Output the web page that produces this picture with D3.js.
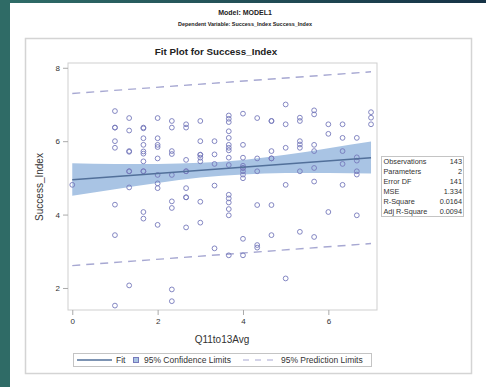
<!DOCTYPE html>
<html>
<head>
<meta charset="utf-8">
<script src="https://cdn.jsdelivr.net/npm/d3@7"></script>
<style>
 body { margin: 0; background: #fff; }
 svg text { font-family: "Liberation Sans", Arial, sans-serif; }
</style>
</head>
<body>
<div id="chart"></div>
<script>

// observations (x is an average of thirds)
var obsX = [
 0,
 1,1,1,1,1,1,1,1,
 1.333,1.333,1.333,1.333,1.333,1.333,1.333,1.333,
 1.667,1.667,1.667,1.667,1.667,1.667,1.667,1.667,1.667,1.667,1.667,
 2,2,2,2,2,2,2,2,2,
 2.333,2.333,2.333,2.333,2.333,2.333,2.333,2.333,2.333,
 2.667,2.667,2.667,2.667,2.667,2.667,2.667,2.667,2.667,
 3,3,3,3,3,3,3,3,
 3.333,3.333,3.333,3.333,3.333,
 3.667,3.667,3.667,3.667,3.667,3.667,3.667,3.667,3.667,3.667,3.667,3.667,3.667,3.667,3.667,3.667,
 4,4,4,4,4,4,4,4,4,4,4,
 4.333,4.333,4.333,4.333,4.333,4.333,
 4.667,4.667,4.667,4.667,4.667,4.667,4.667,
 5,5,5,5,5,
 5.333,5.333,5.333,5.333,5.333,5.333,5.333,
 5.667,5.667,5.667,5.667,5.667,5.667,5.667,
 6,6,6,
 6.333,6.333,6.333,6.333,6.333,
 6.667,6.667,6.667,6.667,6.667,6.667,
 7,7,7
]
var obsY = [
 4.81,
 6.82,6.37,6.37,6.0,5.82,4.27,3.44,1.52,
 6.63,6.29,5.73,5.71,5.18,5.18,4.74,2.07,
 6.37,6.35,6.08,5.90,5.72,5.66,5.45,5.18,5.18,4.07,3.89,
 6.63,6.08,5.90,5.84,5.53,5.08,4.85,4.72,3.72,
 6.55,6.37,5.73,5.65,5.08,4.36,4.18,1.96,1.64,
 6.46,6.37,5.49,5.18,5.18,4.72,4.47,4.47,3.65,
 6.55,6.0,5.63,5.63,5.55,5.45,4.35,3.78,
 6.0,5.64,5.38,4.79,3.08,
 6.70,6.61,6.52,6.27,6.09,5.90,5.82,5.75,5.55,5.35,4.54,4.44,4.33,4.15,3.98,2.89,
 6.75,5.90,5.55,5.33,5.27,5.27,5.18,5.09,4.99,3.34,2.89,
 6.63,5.53,5.18,4.26,3.17,3.10,
 6.55,6.55,5.73,5.53,5.53,4.26,3.44,
 7.0,6.46,5.82,4.81,2.26,
 6.64,6.55,6.0,5.91,5.82,5.18,3.53,
 6.84,6.73,5.90,5.73,5.27,4.90,3.39,
 6.46,6.20,4.07,
 6.46,6.09,5.73,5.38,4.81,
 6.09,5.56,5.47,5.18,5.09,3.98,
 6.79,6.64,6.46
]

// fit line and limits
var fitX = [0, 7]
var fitY = [4.95, 5.55]

var ciX = [0, 1, 2, 3, 4, 5, 6, 7]
var ciLow = [4.51, 4.69, 4.86, 5.01, 5.09, 5.13, 5.13, 5.12]
var ciHigh = [5.40, 5.38, 5.38, 5.41, 5.49, 5.63, 5.81, 5.99]

var plX = [0, 7]
var plLow = [2.61, 3.21]
var plHigh = [7.30, 7.89]

var xTicks = [0, 2, 4, 6]
var yTicks = [2, 4, 6, 8]

var statNames = ["Observations", "Parameters", "Error DF", "MSE", "R-Square", "Adj R-Square"]
var statValues = ["143", "2", "141", "1.334", "0.0164", "0.0094"]

var svgWidth = 486
var svgHeight = 387

var svg = d3.select("#chart")
 .append("svg")
 .attr("width", svgWidth)
 .attr("height", svgHeight)

// slide background strips
var grad = svg.append("defs").append("linearGradient")
 .attr("id", "topgrad")
grad.append("stop").attr("offset", "0%").attr("stop-color", "#2f6d68")
grad.append("stop").attr("offset", "100%").attr("stop-color", "#163246")

svg.append("rect").attr("x", 0).attr("y", 0).attr("width", svgWidth).attr("height", 3)
 .attr("fill", "url(#topgrad)")
svg.append("rect").attr("x", 0).attr("y", 0).attr("width", 10).attr("height", svgHeight)
 .attr("fill", "#2f6b66")

// headers
svg.append("text").attr("x", 245).attr("y", 15).attr("text-anchor", "middle")
 .attr("font-size", "7px").attr("font-weight", "bold").attr("fill", "#222")
 .text("Model: MODEL1")
svg.append("text").attr("x", 245).attr("y", 26).attr("text-anchor", "middle")
 .attr("font-size", "6.2px").attr("font-weight", "bold").attr("fill", "#222")
 .attr("textLength", 134).attr("lengthAdjust", "spacingAndGlyphs")
 .text("Dependent Variable: Success_Index Success_Index")

// outer graph frame
svg.append("rect").attr("x", 25.5).attr("y", 38.5).attr("width", 446).attr("height", 335)
 .attr("fill", "none").attr("stroke", "#d4d4d4").attr("stroke-width", 1.5)

svg.append("text").attr("x", 216).attr("y", 55).attr("text-anchor", "middle")
 .attr("font-size", "9.8px").attr("font-weight", "bold").attr("fill", "#222")
 .text("Fit Plot for Success_Index")

var margin = {top: 63, left: 68, right: 377, bottom: 310}

var xScale = d3.scaleLinear().domain([-0.1, 7.14]).range([margin.left, margin.right])
var yScale = d3.scaleLinear().domain([1.4, 8.13]).range([margin.bottom, margin.top])

// confidence band
var band = d3.area()
 .x(function(d, i) { return xScale(ciX[i]) })
 .y0(function(d, i) { return yScale(ciLow[i]) })
 .y1(function(d, i) { return yScale(ciHigh[i]) })
 .curve(d3.curveNatural)

svg.append("path").datum(ciX).attr("d", band)
 .attr("fill", "#a9c4e4")

var lineOf = function(ys) {
 return d3.line()
  .x(function(d, i) { return xScale(plX[i]) })
  .y(function(d, i) { return yScale(ys[i]) })(plX)
}

svg.append("path").attr("d", lineOf(plHigh))
 .attr("fill", "none").attr("stroke", "#a7a8d2").attr("stroke-width", 1.4)
 .attr("stroke-dasharray", "8,6")
svg.append("path").attr("d", lineOf(plLow))
 .attr("fill", "none").attr("stroke", "#a7a8d2").attr("stroke-width", 1.4)
 .attr("stroke-dasharray", "8,6")

// points
svg.selectAll("circle.obs")
 .data(obsX)
 .enter()
 .append("circle")
 .attr("class", "obs")
 .attr("cx", function(d) { return xScale(d) })
 .attr("cy", function(d, i) { return yScale(obsY[i]) })
 .attr("r", 2.4)
 .attr("fill", "none")
 .attr("stroke", "#7679bb")
 .attr("stroke-width", 0.9)

// fit line
svg.append("path")
 .attr("d", d3.line()
  .x(function(d, i) { return xScale(fitX[i]) })
  .y(function(d, i) { return yScale(fitY[i]) })(fitX))
 .attr("fill", "none").attr("stroke", "#52709a").attr("stroke-width", 1.6)

// plot frame
svg.append("rect").attr("x", margin.left).attr("y", margin.top)
 .attr("width", margin.right - margin.left).attr("height", margin.bottom - margin.top)
 .attr("fill", "none").attr("stroke", "#cfcfcf")

// axes
var bottomAxis = d3.axisBottom(xScale).tickValues(xTicks).tickSize(5).tickPadding(3)
 .tickFormat(d3.format("d"))
var leftAxis = d3.axisLeft(yScale).tickValues(yTicks).tickSize(5).tickPadding(3)
 .tickFormat(d3.format("d"))

var gx = svg.append("g").attr("transform", `translate(0,${margin.bottom})`).call(bottomAxis)
var gy = svg.append("g").attr("transform", `translate(${margin.left},0)`).call(leftAxis)

svg.selectAll(".domain").remove()
svg.selectAll(".tick line").attr("stroke", "#aaa")
svg.selectAll(".tick text").attr("font-size", "8px").attr("fill", "#333")
 .style("font-family", "'Liberation Sans', Arial, sans-serif")

// axis titles
svg.append("text")
 .attr("transform", "rotate(-90)")
 .attr("x", -187).attr("y", 43)
 .attr("text-anchor", "middle").attr("font-size", "10px").attr("fill", "#333")
 .text("Success_Index")

svg.append("text")
 .attr("x", 222).attr("y", 343)
 .attr("text-anchor", "middle").attr("font-size", "10px").attr("fill", "#333")
 .text("Q11to13Avg")

// statistics inset
svg.append("rect").attr("x", 381.5).attr("y", 156.5).attr("width", 82).attr("height", 60)
 .attr("fill", "#fff").attr("stroke", "#c4c4c4")

svg.selectAll("text.statname")
 .data(statNames)
 .enter()
 .append("text")
 .attr("class", "statname")
 .attr("x", 383.5).attr("y", function(d, i) { return 163.5 + i * 10 })
 .attr("font-size", "7.3px").attr("fill", "#333")
 .text(function(d) { return d })

svg.selectAll("text.statval")
 .data(statValues)
 .enter()
 .append("text")
 .attr("class", "statval")
 .attr("x", 462).attr("y", function(d, i) { return 163.5 + i * 10 })
 .attr("text-anchor", "end")
 .attr("font-size", "7.3px").attr("fill", "#333")
 .text(function(d) { return d })

// legend
var legend = svg.append("g")
legend.append("rect").attr("x", 73.5).attr("y", 353.5).attr("width", 298).attr("height", 13)
 .attr("fill", "#fff").attr("stroke", "#c4c4c4")
legend.append("line").attr("x1", 77).attr("x2", 112).attr("y1", 360).attr("y2", 360)
 .attr("stroke", "#52709a").attr("stroke-width", 1.6)
legend.append("text").attr("x", 116).attr("y", 363).attr("font-size", "8.5px").attr("fill", "#333")
 .text("Fit")
legend.append("rect").attr("x", 133.5).attr("y", 357.5).attr("width", 5).attr("height", 5)
 .attr("fill", "#a9c4e4").attr("stroke", "#7679bb")
legend.append("text").attr("x", 144).attr("y", 363).attr("font-size", "8.5px").attr("fill", "#333")
 .text("95% Confidence Limits")
legend.append("line").attr("x1", 243).attr("x2", 278).attr("y1", 360).attr("y2", 360)
 .attr("stroke", "#a7a8d2").attr("stroke-width", 1.2).attr("stroke-dasharray", "6,6")
legend.append("text").attr("x", 281).attr("y", 363).attr("font-size", "8.5px").attr("fill", "#333")
 .text("95% Prediction Limits")

</script>
</body>
</html>
